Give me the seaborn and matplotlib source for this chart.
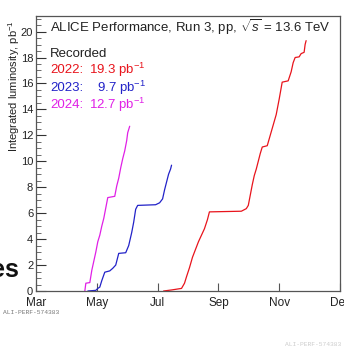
import numpy as np
import pandas as pd
import matplotlib
matplotlib.use("Agg")
import matplotlib.pyplot as plt
import seaborn as sns

# ---- data (days since 1 March, integrated luminosity in pb^-1) ----
days_2022 = [128, 136, 146, 149, 151, 154, 157, 160, 163, 166, 169, 172, 174,
             206, 211, 213, 215, 217, 219, 221, 223, 225, 227, 232, 235, 238,
             241, 244, 247, 253, 256, 258, 260, 264, 266, 269, 270, 271]
lumi_2022 = [0.0, 0.08, 0.2, 0.6, 1.1, 1.8, 2.6, 3.2, 3.8, 4.3, 4.8, 5.5, 6.1,
             6.15, 6.35, 6.6, 7.4, 8.2, 8.9, 9.4, 10.0, 10.6, 11.1, 11.2, 12.0, 12.8,
             13.6, 14.8, 16.1, 16.2, 16.9, 17.6, 18.0, 18.05, 18.3, 18.4, 19.0, 19.3]

days_2023 = [52, 60, 62, 64, 66, 69, 74, 77, 80, 82, 83, 90, 93, 96, 98, 100,
             102, 120, 124, 127, 129, 131, 133, 135, 136]
lumi_2023 = [0.0, 0.05, 0.2, 0.3, 0.8, 1.45, 1.55, 1.75, 2.0, 2.6, 2.9, 2.95,
             3.5, 4.5, 5.3, 6.3, 6.6, 6.65, 6.8, 7.1, 7.8, 8.4, 9.0, 9.4, 9.7]

days_2024 = [49, 50, 54, 56, 58, 60, 62, 64, 66, 68, 70, 72, 79, 81, 83, 85,
             87, 89, 91, 92, 94]
lumi_2024 = [0.0, 0.6, 0.65, 1.6, 2.3, 3.0, 3.8, 4.3, 5.0, 5.6, 6.4, 7.2, 7.3,
             8.1, 8.7, 9.5, 10.2, 10.8, 11.6, 12.2, 12.7]

years = ["2022", "2023", "2024"]
totals = ["19.3", "9.7", "12.7"]
colors = ["#e8141c", "#2222c8", "#e020e6"]

month_ticks = [0, 61, 122, 183, 244, 305]
month_labels = ["Mar", "May", "Jul", "Sep", "Nov", "Dec"]

df = pd.concat([
    pd.DataFrame({"day": days_2022, "lumi": lumi_2022, "year": "2022"}),
    pd.DataFrame({"day": days_2023, "lumi": lumi_2023, "year": "2023"}),
    pd.DataFrame({"day": days_2024, "lumi": lumi_2024, "year": "2024"}),
], ignore_index=True)

sns.set_style("ticks")
plt.rcParams["font.family"] = ["Liberation Sans", "DejaVu Sans"]
plt.rcParams["mathtext.fontset"] = "custom"
plt.rcParams["mathtext.rm"] = "Liberation Sans"
plt.rcParams["mathtext.it"] = "Liberation Sans:italic"

W, H = 344, 346
fig = plt.figure(figsize=(W / 100, H / 100), dpi=100)
ax = fig.add_axes([36 / W, 1 - 291 / H, 304 / W, (291 - 16) / H])

sns.lineplot(data=df, x="day", y="lumi", hue="year", palette=dict(zip(years, colors)),
             ax=ax, legend=False, linewidth=0.9, sort=True, estimator=None)

ax.set_xlim(0, 305)
ax.set_ylim(0, 21.2)
ax.set_xticks(month_ticks)
ax.set_xticklabels(month_labels)
ax.set_yticks(np.arange(0, 21, 2))
ax.set_yticks(np.arange(0, 21.2, 0.5), minor=True)
ax.set_xlabel("")
ax.set_ylabel("")
ax.tick_params(axis="y", which="major", direction="in", length=7, width=0.8,
               labelsize=8, pad=2, colors="#333333", labelcolor="#222222")
ax.tick_params(axis="y", which="minor", direction="in", length=3.5, width=0.6, colors="#555555")
ax.tick_params(axis="x", which="major", direction="in", length=6, width=0.8,
               labelsize=8.5, pad=4, colors="#555555", labelcolor="#222222")
for s in ax.spines.values():
    s.set_color("#555555")
    s.set_linewidth(0.9)

# y axis title
fig.text(14 / W, 1 - 20 / H, "Integrated luminosity, pb$^{-1}$", rotation=90,
         ha="center", va="top", fontsize=8, color="#222222")

# header texts
def ftext(px, py, s, **kw):
    fig.text(px / W, 1 - py / H, s, **kw)

ftext(50, 27, "ALICE Performance, Run 3, pp, $\\sqrt{s}$ = 13.6 TeV", ha="left", va="center",
      fontsize=9.5, color="#222222")
ftext(50, 54, "Recorded", ha="left", va="center", fontsize=9.5, color="#222222")
ypos = [70, 88, 105]
for yr, tot, c, yy in zip(years, totals, colors, ypos):
    ftext(50, yy, yr + ":", ha="left", va="center", fontsize=9.5, color=c)
    ftext(146, yy, tot + " pb$^{-1}$", ha="right", va="center", fontsize=9.5, color=c)

# cropped slide remnants
ftext(19, 270, "es", ha="right", va="center", fontsize=18, fontweight="bold", color="#111111")
ftext(3, 313, "ALI-PERF-574383", ha="left", va="center", fontsize=4.5,
      family="Liberation Mono", color="#777777")
ftext(285, 345, "ALI-PERF-574383", ha="left", va="center", fontsize=4.5,
      family="Liberation Mono", color="#cccccc")

fig.savefig("out.png", dpi=100)
